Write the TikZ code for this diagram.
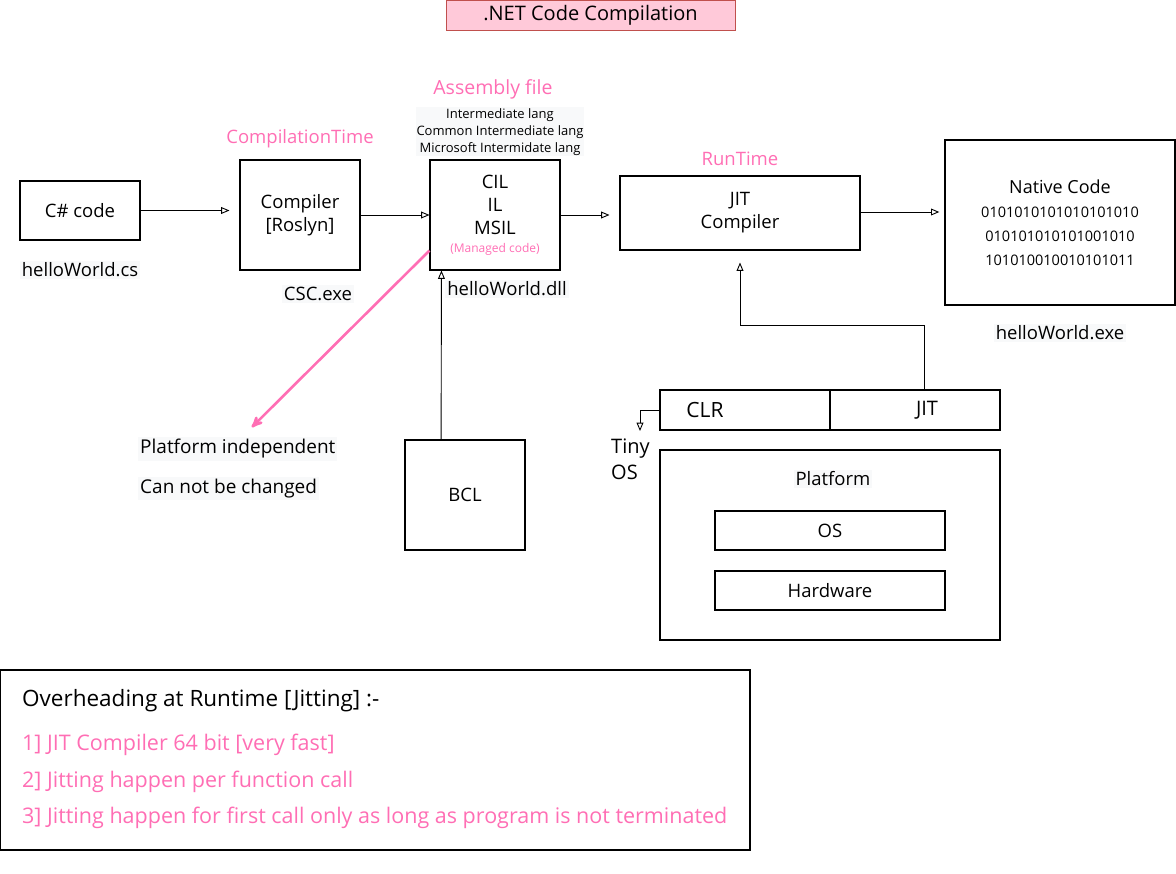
\documentclass[tikz,border=0pt]{standalone}
\usepackage{fontspec}
\setmainfont{Open Sans}
\usepackage{tikz}
\usetikzlibrary{shapes,arrows}
\usetikzlibrary{calc}
\definecolor{hotpink}{HTML}{FF6EB4}
\definecolor{titlefill}{HTML}{FFC9D9}
\definecolor{titleline}{HTML}{C0504D}
\definecolor{labelbg}{HTML}{F8F9FA}
\tikzstyle{codeblock} = [rectangle, draw, line width=1.1pt, text centered, align=center,
    inner sep=0pt, font=\fontsize{18.5}{23}\selectfont]
\tikzstyle{line} = [draw, line width=0.9pt, -open triangle 45]
\tikzstyle{pinklabel} = [text=hotpink, font=\fontsize{18.5}{20}\selectfont]
\tikzstyle{filelabel} = [fill=labelbg, inner sep=2pt, font=\fontsize{18.5}{20}\selectfont]
\tikzstyle{notetext} = [anchor=west, inner sep=0pt, font=\fontsize{21.5}{24}\selectfont]

\begin{document}
\begin{tikzpicture}[x=1pt, y=-1pt, auto]
    \useasboundingbox (0,0) rectangle (1176,874);
    % Title
    \node [rectangle, draw=titleline, fill=titlefill, minimum width=289pt, minimum height=30pt,
        font=\fontsize{20}{22}\selectfont] (title) at (590.5,15) {.NET Code Compilation};
    % Compile time row
    \node [codeblock, minimum width=120pt, minimum height=59pt] (csharp) at (80,210.5) {C\# code};
    \node [filelabel, below of=csharp, node distance=59.5pt] (cs) {helloWorld.cs};
    \node [codeblock, minimum width=120pt, minimum height=110pt] (compiler) at (300,215) {Compiler\\{[Roslyn]}};
    \node [pinklabel, above of=compiler, node distance=76pt] (ctime) {CompilationTime};
    \node [filelabel, below of=compiler, node distance=79pt, xshift=18pt] (csc) {CSC.exe};
    \node [codeblock, minimum width=130pt, minimum height=110pt] (cil) at (495,215)
        {CIL\\IL\\MSIL\\[-5pt]{\color{hotpink}\fontsize{12}{14}\selectfont(Managed code)}};
    \node [pinklabel, above of=cil, node distance=126pt, xshift=-2pt, font=\fontsize{19.5}{21}\selectfont] (asm) {Assembly file};
    \node [fill=labelbg, align=center, inner sep=1pt, font=\fontsize{13}{17}\selectfont] (ilnames) at (500,132)
        {Intermediate lang\\Common Intermediate lang\\Microsoft Intermidate lang};
    \node [filelabel, below of=cil, node distance=74pt, xshift=12pt] (dll) {helloWorld.dll};
    % Run time row
    \node [codeblock, minimum width=240pt, minimum height=74pt] (jit) at (740,213) {JIT\\Compiler};
    \node [pinklabel, above of=jit, node distance=54pt] (rtime) {RunTime};
    \node [codeblock, line width=1.4pt, minimum width=230pt, minimum height=165pt,
        font=\fontsize{14.5}{24}\selectfont] (native) at (1060,222.5)
        {{\fontsize{18}{24}\selectfont Native Code}\\0101010101010101010\\010101010101001010\\101010010010101011};
    \node [filelabel, below of=native, node distance=110.5pt] (exe) {helloWorld.exe};
    % CLR and platform
    \node [codeblock, minimum width=340pt, minimum height=40pt] (clrbar) at (830,410) {};
    \draw [line width=2.4pt] (clrbar.north) -- (clrbar.south);
    \node [font=\fontsize{21}{22}\selectfont] (clr) at (705,410) {CLR};
    \node [font=\fontsize{20}{22}\selectfont] (clrjit) at (927,410) {JIT};
    \node [align=left, anchor=west, inner sep=0pt, font=\fontsize{20}{26}\selectfont] (tinyos) at (611,459) {Tiny\\OS};
    \node [codeblock, minimum width=340pt, minimum height=190pt] (platform) at (830,545) {};
    \node [filelabel, fill=labelbg] (plabel) at (833,479) {Platform};
    \node [codeblock, minimum width=230pt, minimum height=39pt] (os) at (830,530.5) {OS};
    \node [codeblock, minimum width=230pt, minimum height=39pt] (hw) at (830,590.5) {Hardware};
    % BCL and notes on IL
    \node [codeblock, line width=1.8pt, minimum width=120pt, minimum height=110pt] (bcl) at (465,495) {BCL};
    \node [filelabel, anchor=west, font=\fontsize{19}{21}\selectfont] (indep) at (138,449) {Platform independent};
    \node [filelabel, anchor=west, font=\fontsize{19}{21}\selectfont] (fixed) at (138,489) {Can not be changed};
    % Overheading box
    \node [rectangle, draw, line width=1.1pt, minimum width=750pt, minimum height=180pt] (overhead) at (375,760) {};
    \node [notetext, font=\fontsize{22.5}{24}\selectfont] (ohead) at (22,701) {Overheading at Runtime [Jitting] :-};
    \node [notetext, text=hotpink] (note1) at (22,745) {1] JIT Compiler 64 bit [very fast]};
    \node [notetext, text=hotpink] (note2) at (22,782) {2] Jitting happen per function call};
    \node [notetext, text=hotpink] (note3) at (22,818) {3] Jitting happen for first call only as long as program is not terminated};
    % Draw edges
    \path [line, shorten >=10pt] (csharp.east) -- (csharp.east -| compiler.west);
    \path [line] (compiler.east) -- (compiler.east -| cil.west);
    \path [line, shorten >=10pt] (cil.east) -- (cil.east -| jit.west);
    \path [line, shorten >=5pt] (jit.east |- 0,212) -- (native.west |- 0,212);
    \coordinate (jitup) at ($(clrbar.north west)+(265,0)$);
    \coordinate (bend) at ($(jit.south)+(0,75)$);
    \path [line, shorten >=12pt] (jitup) |- (bend) -- (jit.south);
    \coordinate (tinyin) at (640,431);
    \path [line] (clrbar.west) -| (tinyin);
    \path [line] ($(bcl.north west)+(37,0)$) -- ($(cil.south west)+(12,0)$);
    \draw [-stealth', line width=2.6pt, draw=hotpink] ($(cil.south west)+(0,-20)$) -- ($(indep.north)+(14,-10)$);
\end{tikzpicture}
\end{document}
